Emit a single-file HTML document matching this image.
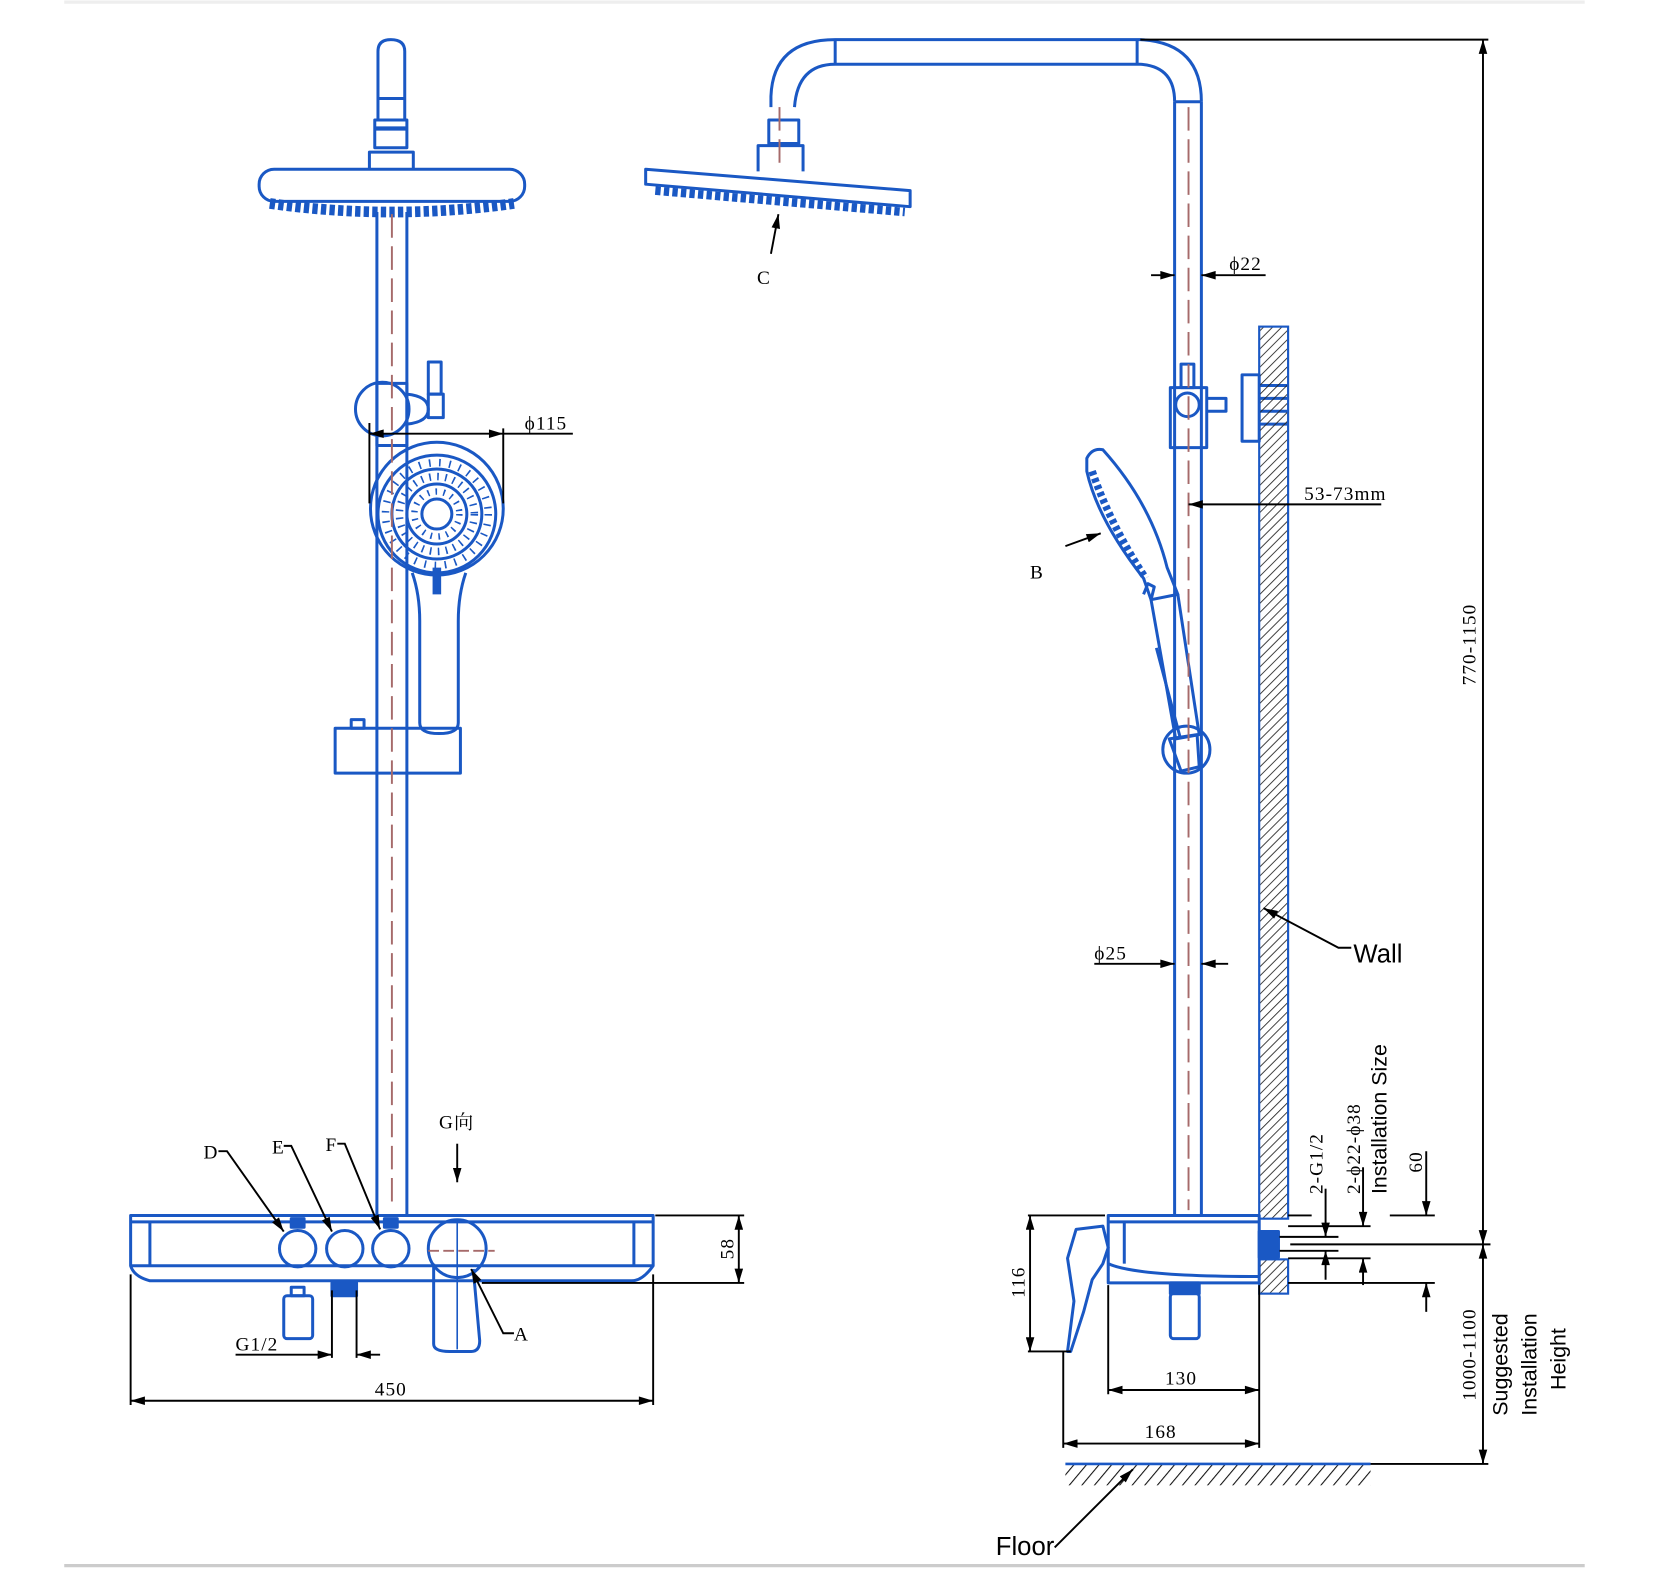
<!DOCTYPE html>
<html><head><meta charset="utf-8"><style>
html,body{margin:0;padding:0;background:#fff;width:1680px;height:1571px;overflow:hidden}
svg{display:block}
</style></head><body>
<svg width="1680" height="1571" viewBox="0 0 1569 1467" preserveAspectRatio="none" xmlns="http://www.w3.org/2000/svg">
<defs>
<marker id="ar" viewBox="0 0 10 6" refX="10" refY="3" markerWidth="18" markerHeight="8" markerUnits="userSpaceOnUse" orient="auto-start-reverse"><path d="M0,0 L10,3 L0,6 Z" fill="#000"/></marker>
<pattern id="hatch" width="6" height="6" patternUnits="userSpaceOnUse" patternTransform="rotate(45)"><line x1="0" y1="0" x2="0" y2="6" stroke="#222" stroke-width="1.6"/></pattern>
<pattern id="hatch2" width="9" height="9" patternUnits="userSpaceOnUse" patternTransform="rotate(40)"><line x1="0" y1="0" x2="0" y2="9" stroke="#111" stroke-width="2"/></pattern>
</defs>
<line x1="60" y1="2" x2="1480" y2="2" stroke="#eee" stroke-width="3"/>
<line x1="60" y1="1462" x2="1480" y2="1462" stroke="#ccc" stroke-width="3"/>

<g fill="none" stroke="#1a58c4" stroke-width="2.8" stroke-linejoin="round">
<!-- LEFT VIEW -->
<path d="M353,112 L353,48 Q353,37 365,37 Q378,37 378,48 L378,112 Z"/>
<line x1="353" y1="92" x2="378" y2="92"/>
<rect x="350" y="112" width="30" height="26"/>
<line x1="350" y1="120" x2="380" y2="120" stroke-width="4"/>
<path d="M345,158 L345,142 L386,142 L386,158"/>
<rect x="242" y="158" width="248" height="30" rx="14"/>
<path d="M252,190 Q366,206 480,190" stroke-width="10" stroke-dasharray="5 3"/>
<line x1="352" y1="198" x2="352" y2="1135"/>
<line x1="380" y1="198" x2="380" y2="1135"/>
<circle cx="357" cy="382" r="25"/>
<rect x="352" y="358" width="28" height="58"/>
<path d="M380,368 Q400,370 400,382 Q400,394 380,396"/>
<rect x="400" y="338" width="12" height="30"/>
<rect x="400" y="368" width="14" height="22"/>
<circle cx="408" cy="475" r="62"/>
<circle cx="408" cy="480" r="55"/>
<circle cx="408" cy="480" r="42"/>
<circle cx="408" cy="480" r="28"/>
<circle cx="408" cy="480" r="14"/>
<circle cx="408" cy="480" r="48" stroke-width="7" stroke-dasharray="1.5 8"/>
<circle cx="408" cy="480" r="35" stroke-width="7" stroke-dasharray="1.5 6"/>
<circle cx="408" cy="480" r="21" stroke-width="6" stroke-dasharray="1.5 6"/>
<path d="M385,535 Q392,555 392,580 L392,675 Q392,685 410,685 Q428,685 428,675 L428,580 Q428,555 435,535"/>
<line x1="408" y1="530" x2="408" y2="555" stroke-width="8"/>
<rect x="313" y="680" width="117" height="42"/>
<rect x="328" y="672" width="12" height="8"/>
<!-- panel -->
<path d="M122,1135 L610,1135 L610,1182 Q600,1196 590,1196 L140,1196 Q125,1192 122,1182 Z"/>
<line x1="122" y1="1141" x2="610" y2="1141"/>
<line x1="140" y1="1141" x2="140" y2="1182"/>
<line x1="592" y1="1141" x2="592" y2="1182"/>
<line x1="122" y1="1182" x2="610" y2="1182"/>
<circle cx="278" cy="1166" r="17"/>
<circle cx="322" cy="1166" r="17"/>
<circle cx="365" cy="1166" r="17"/>
<rect x="272" y="1138" width="12" height="8" fill="#1a58c4"/>
<rect x="359" y="1138" width="12" height="8" fill="#1a58c4"/>
<circle cx="427" cy="1166" r="27"/>
<path d="M405,1180 L405,1255 Q405,1262 420,1262 L440,1262 Q448,1262 448,1252 L442,1185"/>
<line x1="427" y1="1140" x2="427" y2="1260" stroke-width="1.5"/>
<rect x="265" y="1210" width="27" height="40" rx="3"/>
<rect x="272" y="1202" width="12" height="8"/>
<rect x="310" y="1198" width="23" height="12" fill="#1a58c4"/>

<!-- RIGHT VIEW -->
<path d="M720,100 L720,90 Q722,37 780,37 L1065,37 Q1122,40 1122,95"/>
<path d="M742,100 Q745,60 780,60 L1065,60 Q1097,62 1097,95"/>
<line x1="780" y1="37" x2="780" y2="60"/>
<line x1="1062" y1="37" x2="1062" y2="60"/>
<line x1="1097" y1="95" x2="1122" y2="95"/>
<rect x="718" y="112" width="28" height="22"/>
<path d="M708,160 L708,136 L750,136 L750,160"/>
<path d="M603,158 L850,178 L850,193 L603,172 Z"/>
<path d="M612,178 L845,198" stroke-width="8" stroke-dasharray="5 3"/>
<line x1="1097" y1="95" x2="1097" y2="1135"/>
<line x1="1122" y1="95" x2="1122" y2="1135"/>
<rect x="1093" y="362" width="34" height="56"/>
<rect x="1103" y="340" width="12" height="22"/>
<circle cx="1109" cy="378" r="11"/>
<path d="M1127,372 L1145,372 L1145,384 L1127,384"/>
<rect x="1160" y="350" width="16" height="62"/>
<path d="M1176,360 L1202,360 M1176,372 L1202,372 M1176,384 L1202,384 M1176,396 L1202,396"/>
<!-- hand shower tilted -->
<path d="M1015,428 Q1020,418 1030,420 Q1075,470 1090,530 L1100,555 L1075,560 L1068,540 Q1025,485 1015,440 Z"/>
<path d="M1020,440 Q1037,490 1070,540" stroke-width="7" stroke-dasharray="4 3"/>
<path d="M1075,560 L1098,690 L1120,686 L1100,555"/>
<line x1="1080" y1="605" x2="1102" y2="688"/>
<path d="M1075,560 L1078,548 L1072,545 L1068,555"/>
<circle cx="1108" cy="700" r="22"/>
<path d="M1092,690 L1103,720 L1120,716 L1118,686 Z"/>
<!-- mixer right -->
<rect x="1035" y="1135" width="141" height="63"/>
<line x1="1035" y1="1141" x2="1176" y2="1141"/>
<line x1="1050" y1="1141" x2="1050" y2="1180"/>
<path d="M1035,1180 Q1060,1192 1176,1192"/>
<path d="M1005,1148 L1030,1145 L1035,1165 L1030,1180 L1020,1195 L1012,1225 L1000,1262 L997,1262 L1003,1215 L997,1175 Z"/>
<rect x="1093" y="1208" width="27" height="42" rx="3"/>
<rect x="1093" y="1198" width="27" height="10" fill="#1a58c4"/>
<rect x="1176" y="1150" width="18" height="24" fill="#1a58c4"/>
</g>

<!-- center lines -->
<g stroke="#a66a6a" stroke-width="1.8" stroke-dasharray="22 8" fill="none">
<line x1="366" y1="200" x2="366" y2="1130"/>
<line x1="1110" y1="100" x2="1110" y2="1130"/>
<line x1="728" y1="100" x2="728" y2="160"/>
<line x1="400" y1="1168" x2="462" y2="1168" stroke-dasharray="10 4"/>
</g>

<!-- wall -->
<rect x="1176" y="305" width="27" height="833" fill="url(#hatch)" stroke="#1a58c4" stroke-width="2"/>
<rect x="1176" y="1176" width="27" height="32" fill="url(#hatch)" stroke="#1a58c4" stroke-width="2"/>
<rect x="995" y="1367" width="285" height="20" fill="url(#hatch2)"/>
<line x1="995" y1="1367" x2="1280" y2="1367" stroke="#1a58c4" stroke-width="2.5"/>

<!-- dimensions -->
<g stroke="#000" stroke-width="1.8" fill="none">
<line x1="345" y1="405" x2="470" y2="405" marker-start="url(#ar)" marker-end="url(#ar)"/>
<line x1="470" y1="405" x2="535" y2="405"/>
<line x1="345" y1="395" x2="345" y2="470"/><line x1="470" y1="400" x2="470" y2="470"/>
<line x1="122" y1="1190" x2="122" y2="1312"/><line x1="610" y1="1190" x2="610" y2="1312"/>
<line x1="122" y1="1308" x2="610" y2="1308" marker-start="url(#ar)" marker-end="url(#ar)"/>
<line x1="310" y1="1205" x2="310" y2="1268"/><line x1="333" y1="1205" x2="333" y2="1268"/>
<line x1="220" y1="1265" x2="310" y2="1265" marker-end="url(#ar)"/>
<line x1="355" y1="1265" x2="333" y2="1265" marker-end="url(#ar)"/>
<line x1="612" y1="1135" x2="695" y2="1135"/><line x1="450" y1="1198" x2="695" y2="1198"/>
<line x1="690" y1="1135" x2="690" y2="1198" marker-start="url(#ar)" marker-end="url(#ar)"/>
<path d="M204,1075 L212,1075 L265,1150" marker-end="url(#ar)"/>
<path d="M265,1070 L272,1070 L310,1150" marker-end="url(#ar)"/>
<path d="M315,1068 L322,1068 L355,1148" marker-end="url(#ar)"/>
<line x1="427" y1="1068" x2="427" y2="1104" marker-end="url(#ar)"/>
<path d="M480,1245 L470,1245 L440,1185" marker-end="url(#ar)"/>
<line x1="720" y1="237" x2="727" y2="200" marker-end="url(#ar)"/>
<line x1="995" y1="510" x2="1028" y2="498" marker-end="url(#ar)"/>
<line x1="1075" y1="257" x2="1097" y2="257" marker-end="url(#ar)"/>
<line x1="1182" y1="257" x2="1122" y2="257" marker-end="url(#ar)"/>
<line x1="1110" y1="471" x2="1176" y2="471" marker-start="url(#ar)"/>
<line x1="1176" y1="471" x2="1290" y2="471"/>
<line x1="1022" y1="900" x2="1097" y2="900" marker-end="url(#ar)"/>
<line x1="1147" y1="900" x2="1122" y2="900" marker-end="url(#ar)"/>
<path d="M1262,885 L1250,885 L1180,848" marker-end="url(#ar)"/>
<line x1="1065" y1="37" x2="1390" y2="37"/>
<line x1="1385" y1="37" x2="1385" y2="1162" marker-start="url(#ar)" marker-end="url(#ar)"/>
<line x1="1385" y1="1162" x2="1385" y2="1367" marker-start="url(#ar)" marker-end="url(#ar)"/>
<line x1="1205" y1="1162" x2="1392" y2="1162"/>
<line x1="1280" y1="1367" x2="1390" y2="1367"/>
<line x1="985" y1="1445" x2="1058" y2="1372" marker-end="url(#ar)"/>
<line x1="960" y1="1135" x2="1032" y2="1135"/><line x1="960" y1="1262" x2="1000" y2="1262"/>
<line x1="962" y1="1135" x2="962" y2="1262" marker-start="url(#ar)" marker-end="url(#ar)"/>
<line x1="1035" y1="1200" x2="1035" y2="1302"/><line x1="1176" y1="1200" x2="1176" y2="1352"/>
<line x1="993" y1="1262" x2="993" y2="1352"/>
<line x1="1035" y1="1298" x2="1176" y2="1298" marker-start="url(#ar)" marker-end="url(#ar)"/>
<line x1="993" y1="1348" x2="1176" y2="1348" marker-start="url(#ar)" marker-end="url(#ar)"/>
<line x1="1203" y1="1135" x2="1225" y2="1135"/><line x1="1298" y1="1135" x2="1340" y2="1135"/>
<line x1="1203" y1="1145" x2="1280" y2="1145"/><line x1="1203" y1="1175" x2="1280" y2="1175"/>
<line x1="1195" y1="1155" x2="1250" y2="1155"/><line x1="1195" y1="1168" x2="1250" y2="1168"/>
<line x1="1203" y1="1198" x2="1340" y2="1198"/>
<line x1="1238" y1="1110" x2="1238" y2="1155" marker-end="url(#ar)"/>
<line x1="1238" y1="1195" x2="1238" y2="1168" marker-end="url(#ar)"/>
<line x1="1273" y1="1090" x2="1273" y2="1145" marker-end="url(#ar)"/>
<line x1="1273" y1="1200" x2="1273" y2="1175" marker-end="url(#ar)"/>
<line x1="1332" y1="1075" x2="1332" y2="1135" marker-end="url(#ar)"/>
<line x1="1332" y1="1225" x2="1332" y2="1198" marker-end="url(#ar)"/>
</g>

<g font-family="'Liberation Serif', serif" font-size="18" fill="#000" letter-spacing="1">
<text x="490" y="401">ϕ115</text>
<text x="350" y="1303">450</text>
<text x="220" y="1261">G1/2</text>
<text x="190" y="1082">D</text>
<text x="254" y="1077">E</text>
<text x="304" y="1075">F</text>
<text x="410" y="1054" font-family="'Liberation Serif','Noto Serif CJK SC',serif">G向</text>
<text x="480" y="1252">A</text>
<text transform="translate(685,1176) rotate(-90)">58</text>
<text x="707" y="265">C</text>
<text x="962" y="540">B</text>
<text x="1148" y="252">ϕ22</text>
<text x="1218" y="467">53-73mm</text>
<text x="1022" y="896">ϕ25</text>
<text transform="translate(957,1212) rotate(-90)">116</text>
<text x="1088" y="1293">130</text>
<text x="1069" y="1343">168</text>
<text transform="translate(1378,640) rotate(-90)">770-1150</text>
<text transform="translate(1378,1308) rotate(-90)">1000-1100</text>
<text transform="translate(1235,1115) rotate(-90)">2-G1/2</text>
<text transform="translate(1270,1115) rotate(-90)">2-ϕ22-ϕ38</text>
<text transform="translate(1328,1095) rotate(-90)">60</text>
</g>
<g font-family="'Liberation Sans', sans-serif" fill="#000">
<text x="1264" y="899" font-size="24">Wall</text>
<text x="930" y="1452" font-size="24">Floor</text>
<text transform="translate(1295,1115) rotate(-90)" font-size="20">Installation Size</text>
<text transform="translate(1408,1322) rotate(-90)" font-size="20">Suggested</text>
<text transform="translate(1435,1322) rotate(-90)" font-size="20">Installation</text>
<text transform="translate(1462,1298) rotate(-90)" font-size="20">Height</text>
</g>
</svg>
</body></html>
